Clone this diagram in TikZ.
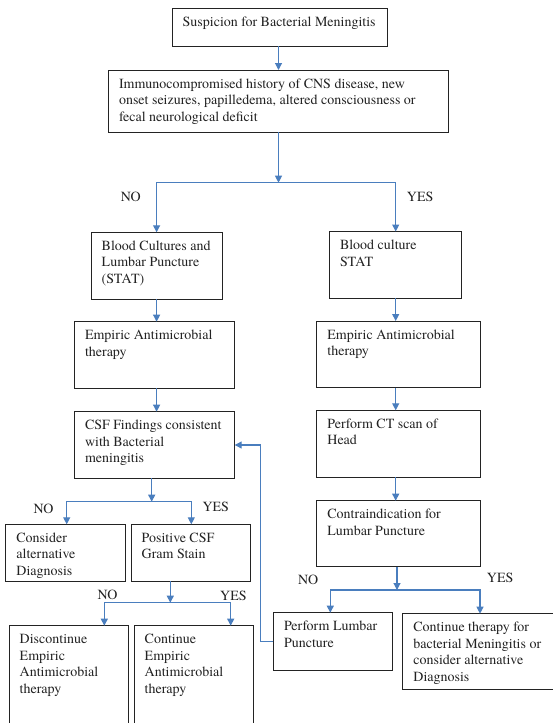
\documentclass[tikz,border=0pt]{standalone}
\usepackage{fontspec}
\setmainfont{texgyretermes}[Extension=.otf, UprightFont=*-regular, BoldFont=*-bold, ItalicFont=*-italic, BoldItalicFont=*-bolditalic]
\usetikzlibrary{arrows.meta}

\definecolor{linkblue}{RGB}{74,126,190}
\definecolor{inkgray}{RGB}{35,35,35}

% multi-line cell whose baseline is the first line
\newcommand\cell[1]{\begin{tabular}[t]{@{}l@{}}#1\end{tabular}}

% box from (x1,y1) top-left to (x2,y2) bottom-right, text set at the top left
\newcommand\flowbox[6]{%
  \node[boxshape, anchor=north west,
        minimum width={(#4)-(#2)}, minimum height={(#5)-(#3)}] (#1) at (#2,#3) {};
  \node[boxtext, anchor=base west] at ([xshift=10.5pt,yshift=-18pt]#1.north west) {\cell{#6}};
}

\tikzset{
  boxshape/.style={draw=inkgray, line width=0.9pt, rectangle, inner sep=0pt, outer sep=0pt},
  boxtext/.style={inner sep=0pt, text=inkgray, font=\rmfamily\fontsize{14pt}{16.6pt}\selectfont},
  lbl/.style={inner sep=0pt, text=inkgray, font=\rmfamily\fontsize{14pt}{16.6pt}\selectfont, anchor=base west},
  link/.style={draw=linkblue, line width=1.1pt},
  arr/.style={link, -{Triangle[length=7pt,width=7pt]}},
}

\begin{document}
\begin{tikzpicture}[x=1pt,y=-1pt]
\fill[white] (0,0) rectangle (553,723);
\useasboundingbox (0,0) rectangle (553,723);

% ---- boxes ----
\flowbox{susp}{172}{8.3}{387.3}{46.3}{Suspicion for Bacterial Meningitis}
\flowbox{immuno}{108.3}{70}{448}{132.3}{Immunocompromised history of CNS disease, new\\onset seizures, papilledema, altered consciousness or\\fecal neurological deficit}
\flowbox{bcl}{91}{232.3}{222.3}{299.3}{Blood Cultures and\\Lumbar Puncture\\(STAT)}
\flowbox{bcr}{329.3}{231.5}{461}{298.3}{Blood culture\\STAT}
\flowbox{empl}{74.3}{321.7}{234.7}{388.3}{Empiric Antimicrobial\\therapy}
\flowbox{empr}{316.7}{321}{480.3}{387.7}{Empiric Antimicrobial\\therapy}
\flowbox{csf}{74.3}{411.7}{234.7}{478.3}{CSF Findings consistent\\with Bacterial\\meningitis}
\flowbox{ct}{316.7}{410.3}{480.3}{477}{Perform CT scan of\\Head}
\flowbox{alt}{5.7}{524.3}{125.3}{581.3}{Consider\\alternative\\Diagnosis}
\flowbox{gram}{131}{524.3}{250.3}{581.3}{Positive CSF\\Gram Stain}
\flowbox{contra}{316.7}{500.7}{480.3}{566.7}{Contraindication for\\Lumbar Puncture}
\flowbox{disc}{9}{625.7}{128.3}{745}{Discontinue\\Empiric\\Antimicrobial\\therapy}
\flowbox{cont}{134}{625.7}{253.3}{745}{Continue\\Empiric\\Antimicrobial\\therapy}
\flowbox{lp}{273.3}{612.7}{392.7}{670.3}{Perform Lumbar\\Puncture}
\flowbox{ctr}{402.7}{613.7}{560}{689.3}{Continue therapy for\\bacterial Meningitis or\\consider alternative\\Diagnosis}

% ---- branch points and column lines ----
\coordinate (colL) at (156.6,0);
\coordinate (colR) at (395.7,0);
\coordinate (j1) at (278.5,182.7);
\coordinate (j2) at (151.7,501.7);
\coordinate (j3) at (170.3,602.7);
\coordinate (j4) at (397,590);
\coordinate (discin) at (104.3,0);
\coordinate (contin) at (230.7,0);
\coordinate (lpin) at (330.3,0);
\coordinate (ctrin) at (480,0);
\coordinate (fb) at (260.3,0);

% ---- connectors ----
\draw[arr] (susp.south -| j1) -- (immuno.north -| j1);
\draw[arr] (immuno.south -| j1) -- (j1);
\draw[arr] (j1) -| (bcl.north -| colL);
\draw[arr] (j1) -| (bcr.north -| colR);

\draw[arr] (bcl.south -| colL) -- (empl.north -| colL);
\draw[arr] (empl.south -| colL) -- (csf.north -| colL);
\draw[arr] (bcr.south -| colR) -- (empr.north -| colR);
\draw[arr] (empr.south -| colR) -- (ct.north -| colR);
\draw[arr] (ct.south -| colR) -- (contra.north -| colR);

\draw[arr] (csf.south -| j2) -- (j2);
\draw[arr] (j2) -| (alt.north -| 66.7,0);
\draw[arr] (j2) -| (gram.north -| 191.3,0);

\draw[arr] (gram.south -| j3) -- (j3);
\draw[arr] (j3) -| (disc.north -| discin);
\draw[arr] (j3) -| (cont.north -| contin);

\draw[arr] (contra.south -| j4) -- (j4);
\draw[arr] (j4) -| (lp.north -| lpin);
\draw[arr] (j4) -| (ctr.north -| ctrin);

\draw[arr] (lp.west) -- (lp.west -| fb) |- (csf.east);

% ---- branch labels ----
\node[lbl] (no1)  at (120.7,201) {NO};
\node[lbl] (yes1) at (406.7,201) {YES};
\node[lbl] (no2)  at (33.3,513.3) {NO};
\node[lbl] (yes2) at (202.3,511.7) {YES};
\node[lbl] (no3)  at (97.3,599) {NO};
\node[lbl] (yes3) at (220,600) {YES};
\node[lbl] (no4)  at (298,584.3) {NO};
\node[lbl] (yes4) at (486.7,582.7) {YES};
\end{tikzpicture}
\end{document}
